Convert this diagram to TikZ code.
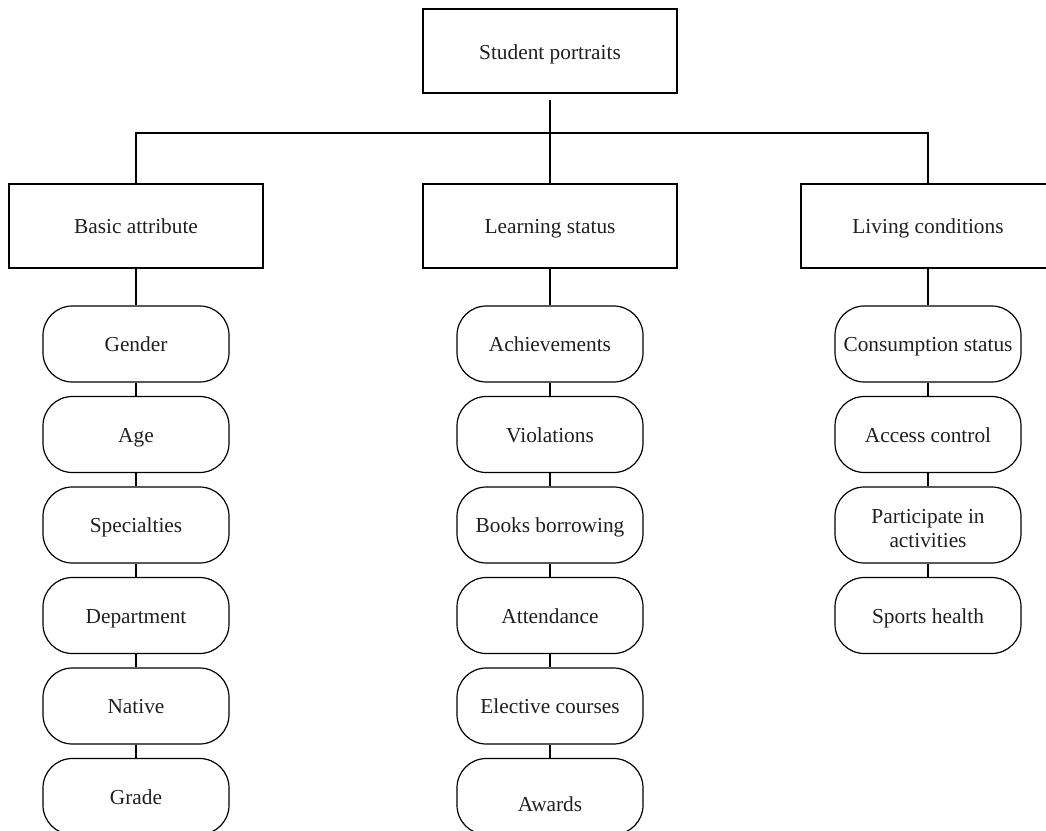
\documentclass[tikz,border=0pt]{standalone}
\usepackage{fontspec}
\setmainfont{Liberation Serif}
\begin{document}
\begin{tikzpicture}[x=0.75pt,y=-0.75pt,
  txt/.style={font=\fontsize{16}{18}\selectfont, text height=14.8pt, text depth=3.5pt, text=black!88},
  box/.style={txt, draw, line width=0.9pt, minimum width=190.5pt, minimum height=63pt, inner sep=0pt},
  item/.style={txt, draw, line width=0.9pt, rounded corners=22pt, minimum width=139.5pt, minimum height=57pt, inner sep=0pt, align=center},
  link/.style={line width=0.9pt}]
\useasboundingbox (0,0) rectangle (1046,831);
\clip (0,0) rectangle (1046,831);
\node[box, text height=16pt] (root) at (550,51) {Student portraits};
\node[box] (b1) at (136,226) {Basic attribute};
\node[box] (b2) at (550,226) {Learning status};
\node[box] (b3) at (928,226) {Living conditions};
\coordinate (bar) at (550,133);
\draw[link] ([yshift=-5pt]root.south) -- (root.south |- bar);
\draw[link] (b1.north) -- (b1.north |- bar) -| (b3.north);
\draw[link] (b2.north) -- (b2.north |- bar);
% left column
\node[item] (l1) at (136,344) {Gender};
\node[item] (l2) at (136,434.5) {Age};
\node[item] (l3) at (136,525) {Specialties};
\node[item] (l4) at (136,615.5) {Department};
\node[item] (l5) at (136,706) {Native};
\node[item] (l6) at (136,796.5) {Grade};
% middle column
\node[item] (m1) at (550,344) {Achievements};
\node[item] (m2) at (550,434.5) {Violations};
\node[item] (m3) at (550,525) {Books borrowing};
\node[item] (m4) at (550,615.5) {Attendance};
\node[item] (m5) at (550,706) {Elective courses};
\node[item, text height=26.5pt] (m6) at (550,796.5) {Awards};
% right column
\node[item] (r1) at (928,344) {Consumption status};
\node[item] (r2) at (928,434.5) {Access control};
\node[item, text height=, text depth=] (r3) at (928,525)
  {\raisebox{0pt}[\dimexpr\height+9pt\relax][\depth]{\begin{tabular}{@{}c@{}}Participate in\\activities\end{tabular}}};
\node[item] (r4) at (928,615.5) {Sports health};
% connectors
\draw[link] (b1.south) -- (l1.north);
\draw[link] (l1.south) -- (l2.north);
\draw[link] (l2.south) -- (l3.north);
\draw[link] (l3.south) -- (l4.north);
\draw[link] (l4.south) -- (l5.north);
\draw[link] (l5.south) -- (l6.north);
\draw[link] (b2.south) -- (m1.north);
\draw[link] (m1.south) -- (m2.north);
\draw[link] (m2.south) -- (m3.north);
\draw[link] (m3.south) -- (m4.north);
\draw[link] (m4.south) -- (m5.north);
\draw[link] (m5.south) -- (m6.north);
\draw[link] (b3.south) -- (r1.north);
\draw[link] (r1.south) -- (r2.north);
\draw[link] (r2.south) -- (r3.north);
\draw[link] (r3.south) -- (r4.north);
\end{tikzpicture}
\end{document}
